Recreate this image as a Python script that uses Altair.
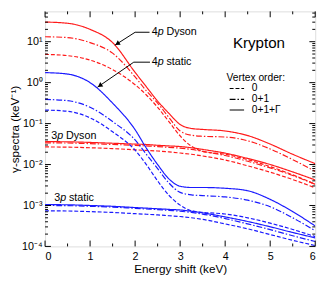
import altair as alt
import pandas as pd

# ---------------- data ----------------
X = [0, 0.5, 1, 1.5, 2, 2.25, 2.5, 2.75, 3, 3.25, 3.5, 4, 4.5, 5, 5.5, 6]

# 4p Dyson (red)
dyson4p_full = [30.2, 28.2, 20.0, 9.5, 1.78, 0.79, 0.355, 0.178, 0.095, 0.076, 0.072, 0.066, 0.051, 0.0316, 0.0178, 0.0105]
dyson4p_01 = [13.2, 12.6, 9.5, 5.25, 1.38, 0.63, 0.316, 0.141, 0.066, 0.052, 0.049, 0.047, 0.038, 0.024, 0.0132, 0.0068]
dyson4p_0 = [4.9, 4.57, 3.55, 2.09, 0.89, 0.5, 0.25, 0.112, 0.05, 0.028, 0.021, 0.0178, 0.0132, 0.0089, 0.0056, 0.0033]
# 3p Dyson (red)
dyson3p_full = [0.0363, 0.0359, 0.0347, 0.0331, 0.0316, 0.0309, 0.0295, 0.0285, 0.0275, 0.0257, 0.0234, 0.019, 0.0141, 0.01, 0.0066, 0.0042]
dyson3p_01 = [0.0339, 0.0335, 0.0324, 0.0309, 0.0295, 0.0285, 0.0275, 0.0263, 0.0251, 0.0234, 0.0209, 0.0166, 0.012, 0.0083, 0.0054, 0.0033]
dyson3p_0 = [0.0269, 0.0266, 0.0257, 0.0245, 0.0229, 0.0221, 0.0214, 0.0204, 0.0191, 0.0178, 0.0162, 0.0129, 0.0093, 0.0065, 0.0043, 0.0027]
# 4p static (blue)
static4p_full = [1.76, 1.62, 1.0, 0.316, 0.0708, 0.0251, 0.01, 0.00447, 0.00295, 0.00275, 0.00275, 0.00263, 0.00229, 0.00141, 0.000708, 0.000316]
static4p_01 = [0.389, 0.363, 0.251, 0.112, 0.0398, 0.0178, 0.00794, 0.00355, 0.00209, 0.00182, 0.00174, 0.00162, 0.00135, 0.00093, 0.0005, 0.00024]
static4p_0 = [0.214, 0.2, 0.138, 0.063, 0.0224, 0.01, 0.00398, 0.00178, 0.00102, 0.00074, 0.00068, 0.00062, 0.0005, 0.00037, 0.00026, 0.000174]
# 3p static (blue)
static3p_full = [0.00105, 0.00104, 0.001, 0.000955, 0.000891, 0.000861, 0.000832, 0.000804, 0.000776, 0.000724, 0.000661, 0.000525, 0.000407, 0.000302, 0.000219, 0.000162]
static3p_01 = [0.001, 0.00099, 0.000955, 0.000912, 0.000851, 0.000822, 0.000794, 0.000759, 0.000724, 0.000676, 0.000617, 0.000479, 0.000355, 0.000257, 0.000182, 0.000132]
static3p_0 = [0.000741, 0.000733, 0.000708, 0.000676, 0.000631, 0.00061, 0.000589, 0.000562, 0.000537, 0.000501, 0.000457, 0.000355, 0.000269, 0.000195, 0.000141, 0.000105]

ORDERS = ["0", "0+1", "0+1+Γ"]
SERIES = [
    ("dyson4p_0", "Dyson", "0", dyson4p_0),
    ("dyson4p_01", "Dyson", "0+1", dyson4p_01),
    ("dyson4p_full", "Dyson", "0+1+Γ", dyson4p_full),
    ("dyson3p_0", "Dyson", "0", dyson3p_0),
    ("dyson3p_01", "Dyson", "0+1", dyson3p_01),
    ("dyson3p_full", "Dyson", "0+1+Γ", dyson3p_full),
    ("static4p_0", "static", "0", static4p_0),
    ("static4p_01", "static", "0+1", static4p_01),
    ("static4p_full", "static", "0+1+Γ", static4p_full),
    ("static3p_0", "static", "0", static3p_0),
    ("static3p_01", "static", "0+1", static3p_01),
    ("static3p_full", "static", "0+1+Γ", static3p_full),
]

# annotation texts
LABEL_X = [2.37, 2.37, 0.14, 0.205]
LABEL_Y = [17.0, 3.16, 0.049, 0.00155]
LABEL_NUM = ["4", "4", "3", "3"]
LABEL_REST = ["Dyson", "static", "Dyson", "static"]

# arrows (start -> tip)
ARROW_X = [2.32, 2.0, 2.33, 1.97]
ARROW_Y = [17.0, 17.0, 3.16, 3.16]
ARROW_X2 = [2.0, 1.55, 1.97, 1.163]
ARROW_Y2 = [17.0, 8.2, 3.16, 0.773]
HEAD_X = [1.604, 1.216]
HEAD_Y = [8.95, 0.848]
HEAD_ANGLE = [237, 235.5]

# legend
LEG_Y = [0.72, 0.39, 0.215]

YTICKS_MAJOR = [1e-4, 1e-3, 1e-2, 1e-1, 1, 10]
XTICKS_MAJOR = [0, 1, 2, 3, 4, 5, 6]
XTICKS_MINOR = [0.5, 1.5, 2.5, 3.5, 4.5, 5.5]

# ---------------- build ----------------
rows = []
for name, kind, order, vals in SERIES:
    for x, v in zip(X, vals):
        rows.append({"x": x, "y": v, "series": name, "kind": kind, "order": order})
df = pd.DataFrame(rows)

W, H = 277, 241
FONT = "Liberation Sans"
yscale = alt.Scale(type="log", domain=[1e-4, 55], nice=False)
xscale = alt.Scale(domain=[0, 6], nice=False)
dash_scale = alt.Scale(domain=ORDERS, range=[[4, 2], [6, 2, 1.5, 2], [1, 0]])

label_expr = ("datum.value >= 5 ? '10¹' : datum.value >= 0.5 ? '10⁰' : datum.value >= 0.05 ? '10⁻¹' : "
              "datum.value >= 0.005 ? '10⁻²' : datum.value >= 0.0005 ? '10⁻³' : '10⁻⁴'")

XAX = alt.Axis(values=XTICKS_MAJOR, title="Energy shift (keV)", tickSize=0, domain=False,
               grid=False, labelFontSize=11, labelPadding=4, titleFontSize=12,
               titleFontWeight="normal", titlePadding=3, labelFont=FONT, titleFont=FONT)
YAX = alt.Axis(values=YTICKS_MAJOR, labelExpr=label_expr, title="γ-spectra (keV⁻¹)",
               tickSize=0, domain=False, grid=False, labelFontSize=11, labelPadding=3,
               titleFontSize=12, titleFontWeight="normal", titlePadding=0,
               labelFont=FONT, titleFont=FONT)

def XE(field="x"):
    return alt.X(f"{field}:Q", scale=xscale, axis=XAX)

def YE(field="y"):
    return alt.Y(f"{field}:Q", scale=yscale, axis=YAX)

lines = alt.Chart(df).mark_line(strokeWidth=1.2, interpolate="monotone", clip=True).encode(
    x=XE(), y=YE(),
    color=alt.Color("kind:N", scale=alt.Scale(domain=["Dyson", "static"], range=["#ff1a1a", "#1a1aff"]), legend=None),
    strokeDash=alt.StrokeDash("order:N", scale=dash_scale, legend=None),
    detail="series:N",
)

# inward ticks
ymin = []
for d in range(-4, 2):
    for k in range(2, 10):
        v = k * 10 ** d
        if v < 55:
            ymin.append(v)
ymaj_df = pd.DataFrame({"y": YTICKS_MAJOR})
ymin_df = pd.DataFrame({"y": ymin})
xmaj_df = pd.DataFrame({"x": XTICKS_MAJOR})
xmin_df = pd.DataFrame({"x": XTICKS_MINOR})

def yt(dfx, x0, x1):
    return alt.Chart(dfx).mark_rule(color="black", strokeWidth=1).encode(
        y=YE(), x=alt.value(x0), x2=alt.value(x1))

def xt(dfx, y0, y1):
    return alt.Chart(dfx).mark_rule(color="black", strokeWidth=1).encode(
        x=XE(), y=alt.value(y0), y2=alt.value(y1))

ticks = [
    yt(ymaj_df, 0, 6), yt(ymin_df, 0, 3), yt(ymaj_df, W, W - 6), yt(ymin_df, W, W - 3),
    xt(xmaj_df, H, H - 6), xt(xmin_df, H, H - 3), xt(xmaj_df, 0, 6), xt(xmin_df, 0, 3),
]

lab_df = pd.DataFrame({"x": LABEL_X, "y": LABEL_Y, "num": LABEL_NUM, "rest": LABEL_REST, "p": ["p"] * 4})
tbase = alt.Chart(lab_df).encode(x=XE(), y=YE())
t_num = tbase.mark_text(align="left", baseline="middle", font=FONT, fontSize=11, color="black").encode(text="num:N")
t_p = tbase.mark_text(align="left", baseline="middle", font=FONT, fontSize=11, fontStyle="italic",
                      color="black", dx=6).encode(text="p:N")
t_rest = tbase.mark_text(align="left", baseline="middle", font=FONT, fontSize=11, color="black",
                         dx=15).encode(text="rest:N")

arr_df = pd.DataFrame({"x": ARROW_X, "y": ARROW_Y, "x2": ARROW_X2, "y2": ARROW_Y2})
arrows = alt.Chart(arr_df).mark_rule(color="black", strokeWidth=1).encode(
    x=XE(), y=YE(), x2="x2:Q", y2="y2:Q")
head_df = pd.DataFrame({"x": HEAD_X, "y": HEAD_Y, "a": HEAD_ANGLE})
heads = alt.Chart(head_df).mark_point(shape="triangle-up", filled=True, size=30, color="black", opacity=1).encode(
    x=XE(), y=YE(), angle=alt.Angle("a:Q", scale=None))

leg_df = pd.DataFrame({"x": [4.10] * 3, "x2": [4.42] * 3, "y": LEG_Y, "order": ORDERS})
leg_lines = alt.Chart(leg_df).mark_rule(color="black", strokeWidth=1.2).encode(
    x=XE(), x2="x2:Q", y=YE(),
    strokeDash=alt.StrokeDash("order:N", scale=dash_scale, legend=None))
leg_tdf = pd.DataFrame({"x": [4.59] * 3, "y": LEG_Y, "order": ORDERS})
leg_text = alt.Chart(leg_tdf).mark_text(align="left", baseline="middle", font=FONT, fontSize=10.5, color="black").encode(
    x=XE(), y=YE(), text="order:N")

misc_df = pd.DataFrame({"x": [4.03], "y": [1.31], "t": ["Vertex order:"]})
vt = alt.Chart(misc_df).mark_text(align="left", baseline="middle", font=FONT, fontSize=10.5, color="black").encode(
    x=XE(), y=YE(), text="t:N")
kr_df = pd.DataFrame({"x": [4.75], "y": [9.1], "t": ["Krypton"]})
kr = alt.Chart(kr_df).mark_text(align="center", baseline="middle", font=FONT, fontSize=15.5, color="black").encode(
    x=XE(), y=YE(), text="t:N")

chart = alt.layer(lines, *ticks, arrows, heads, t_num, t_p, t_rest, leg_lines, leg_text, vt, kr).properties(
    width=W, height=H,
    autosize=alt.AutoSizeParams(type="none"),
    padding={"left": 38, "top": 0, "right": 9, "bottom": 33},
).configure_view(stroke="black", strokeWidth=1).configure(font=FONT)

chart.save("out.html", embed_options={"renderer": "svg", "actions": False})
